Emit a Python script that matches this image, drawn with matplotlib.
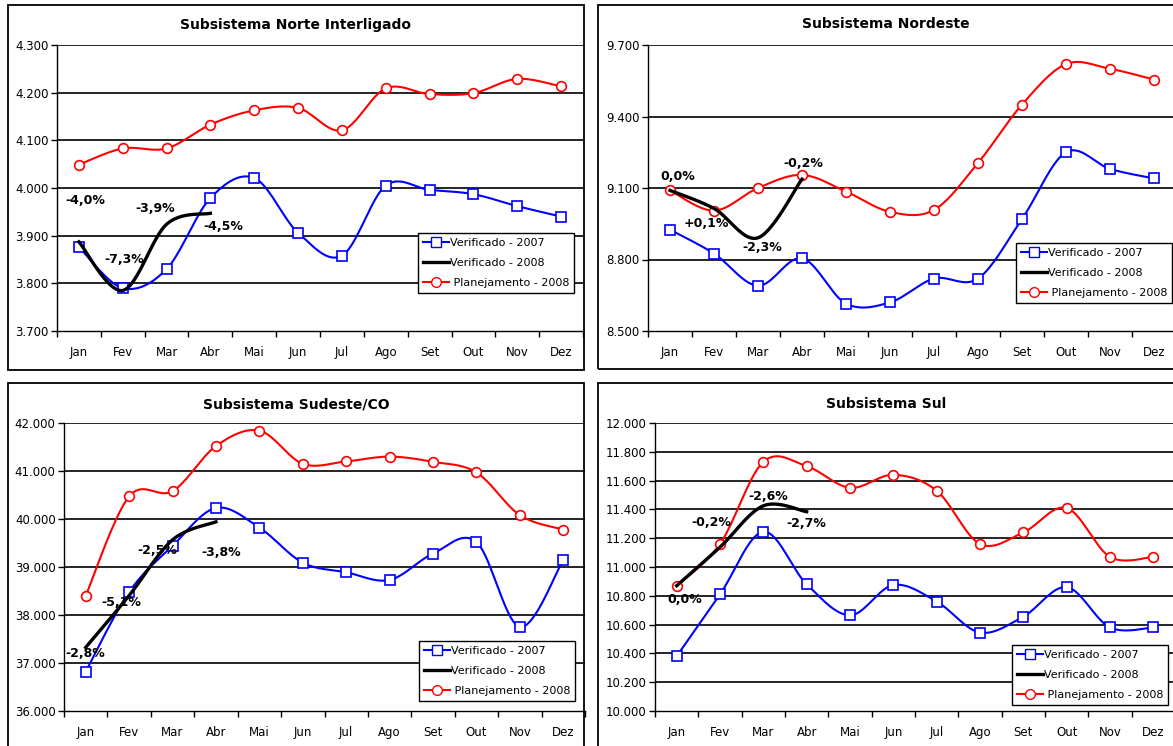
import numpy as np
import matplotlib
matplotlib.use("Agg")
import matplotlib.pyplot as plt
from matplotlib.lines import Line2D
from matplotlib.patches import Rectangle
from matplotlib.ticker import FuncFormatter, FixedLocator

months = ["Jan", "Fev", "Mar", "Abr", "Mai", "Jun", "Jul", "Ago", "Set", "Out", "Nov", "Dez"]

norte_2007 = [3876, 3790, 3830, 3979, 4021, 3906, 3858, 4005, 3996, 3987, 3962, 3940]
norte_2008 = [3887, 3785, 3924, 3947]
norte_plan = [4049, 4083, 4083, 4133, 4163, 4168, 4121, 4209, 4197, 4199, 4229, 4213]
norte_pct = ["-4,0%", "-7,3%", "-3,9%", "-4,5%"]

nordeste_2007 = [8925, 8825, 8690, 8805, 8615, 8620, 8720, 8720, 8970, 9250, 9180, 9140]
nordeste_2008 = [9090, 9014, 8891, 9137]
nordeste_plan = [9090, 9005, 9100, 9155, 9085, 9000, 9008, 9205, 9450, 9620, 9600, 9555]
nordeste_pct = ["0,0%", "+0,1%", "-2,3%", "-0,2%"]

sudeste_2007 = [36820, 38480, 39440, 40230, 39820, 39090, 38890, 38730, 39280, 39520, 37750, 39150]
sudeste_2008 = [37325, 38406, 39566, 39942]
sudeste_plan = [38400, 40470, 40580, 41520, 41840, 41150, 41200, 41300, 41190, 40970, 40080, 39780]
sudeste_pct = ["-2,8%", "-5,1%", "-2,5%", "-3,8%"]

sul_2007 = [10380, 10810, 11245, 10880, 10665, 10875, 10760, 10545, 10655, 10860, 10580, 10580]
sul_2008 = [10870, 11138, 11425, 11384]
sul_plan = [10870, 11160, 11730, 11700, 11550, 11640, 11530, 11160, 11240, 11410, 11070, 11070]
sul_pct = ["0,0%", "-0,2%", "-2,6%", "-2,7%"]

W, H = 1173, 746
fig = plt.figure(figsize=(W / 100, H / 100), dpi=100)
plt.rcParams['font.family'] = ['DejaVu Sans']


def px(l, t, r, b):
    return [l / W, (H - b) / H, (r - l) / W, (b - t) / H]


def smooth(y, n=20):
    """Excel-like smoothed line (Catmull-Rom Bezier) through the given points."""
    y = np.asarray(y, dtype=float)
    x = np.arange(len(y), dtype=float)
    P = np.column_stack([x, y])
    out = [P[0]]
    for i in range(len(P) - 1):
        p0 = P[i - 1] if i > 0 else P[i]
        p1 = P[i]
        p2 = P[i + 1]
        p3 = P[i + 2] if i + 2 < len(P) else P[i + 1]
        c1 = p1 + (p2 - p0) / 6.0
        c2 = p2 - (p3 - p1) / 6.0
        t = np.linspace(0, 1, n)[1:, None]
        seg = ((1 - t) ** 3) * p1 + 3 * ((1 - t) ** 2) * t * c1 + 3 * (1 - t) * t ** 2 * c2 + t ** 3 * p2
        out.extend(seg)
    out = np.array(out)
    return out[:, 0], out[:, 1]


fmt = FuncFormatter(lambda v, p: f"{v:,.0f}".replace(",", "."))

panels = [
    dict(title="Subsistema Norte Interligado", rect=px(57, 45, 583, 331), tcx=296, tcy=25,
         v07=norte_2007, v08=norte_2008, plan=norte_plan, pct=norte_pct,
         ylim=(3700, 4300), step=100,
         pctpos=[(0.14, 3973), (1.03, 3849), (1.74, 3956), (3.29, 3920)],
         leg=(418, 233)),
    dict(title="Subsistema Nordeste", rect=px(648, 45, 1176, 331), tcx=886, tcy=24,
         v07=nordeste_2007, v08=nordeste_2008, plan=nordeste_plan, pct=nordeste_pct,
         ylim=(8500, 9700), step=300,
         pctpos=[(0.18, 9150), (0.82, 8949), (2.09, 8852), (3.02, 9201)],
         leg=(1016, 243)),
    dict(title="Subsistema Sudeste/CO", rect=px(64, 423, 585, 711), tcx=296, tcy=404,
         v07=sudeste_2007, v08=sudeste_2008, plan=sudeste_plan, pct=sudeste_pct,
         ylim=(36000, 42000), step=1000,
         pctpos=[(0.0, 37208), (0.81, 38250), (1.64, 39354), (3.13, 39292)],
         leg=(419, 641)),
    dict(title="Subsistema Sul", rect=px(655, 423, 1175, 711), tcx=886, tcy=404,
         v07=sul_2007, v08=sul_2008, plan=sul_plan, pct=sul_pct,
         ylim=(10000, 12000), step=200,
         pctpos=[(0.18, 10771), (0.81, 11312), (2.12, 11493), (3.0, 11299)],
         leg=(1012, 645)),
]

# panel frames
for (l, t, r, b) in [(8, 5, 584, 370), (598, 5, 1190, 369), (8, 383, 584, 760), (598, 383, 1190, 760)]:
    fig.patches.append(Rectangle((l / W, (H - b) / H), (r - l) / W, (b - t) / H,
                                 transform=fig.transFigure, fill=False, ec="black", lw=1.3, zorder=0))

for p in panels:
    ax = fig.add_axes(p["rect"])
    ax.set_facecolor("none")
    x = np.arange(12)
    lo, hi = p["ylim"]
    ax.set_ylim(lo, hi)
    ax.set_xlim(-0.5, 11.5)
    for v in np.arange(lo + p["step"], hi + p["step"] / 2, p["step"]):
        ax.axhline(v, color="black", lw=1.2, zorder=1)
    ax.yaxis.set_major_locator(FixedLocator(np.arange(lo, hi + p["step"] / 2, p["step"])))
    ax.yaxis.set_major_formatter(fmt)
    ax.set_xticks(x)
    ax.set_xticklabels(months)
    ax.xaxis.set_minor_locator(FixedLocator(np.arange(-0.5, 12, 1)))
    ax.tick_params(axis="x", which="major", length=0, pad=11, labelsize=8.5)
    ax.tick_params(axis="x", which="minor", length=4, width=1, direction="out")
    ax.tick_params(axis="y", which="major", length=4, width=1, direction="out", labelsize=8.5, pad=2)
    for s in ["top", "right"]:
        ax.spines[s].set_visible(False)
    for s in ["left", "bottom"]:
        ax.spines[s].set_linewidth(1.0)
        ax.spines[s].set_color("black")

    sx, sy = smooth(p["v07"])
    ax.plot(sx, sy, color="#0000FF", lw=1.5, zorder=3)
    ax.plot(x, p["v07"], ls="none", marker="s", ms=7, mfc="white", mec="#0000FF", mew=1.2, zorder=4)

    sx, sy = smooth(p["plan"])
    ax.plot(sx, sy, color="#FF0000", lw=1.5, zorder=3)
    ax.plot(x, p["plan"], ls="none", marker="o", ms=7, mfc="white", mec="#FF0000", mew=1.2, zorder=4)

    sx, sy = smooth(p["v08"])
    ax.plot(sx, sy, color="black", lw=2.4, zorder=5)

    for (tx, ty), s in zip(p["pctpos"], p["pct"]):
        ax.text(tx, ty, s, ha="center", va="center", fontsize=9, fontweight="bold", zorder=6)

    fig.text(p["tcx"] / W, 1 - p["tcy"] / H, p["title"], ha="center", va="center",
             fontsize=10, fontweight="bold")

    handles = [
        Line2D([], [], color="#0000FF", lw=1.5, marker="s", ms=7, mfc="white", mec="#0000FF"),
        Line2D([], [], color="black", lw=2.4),
        Line2D([], [], color="#FF0000", lw=1.5, marker="o", ms=7, mfc="white", mec="#FF0000"),
    ]
    labels = ["Verificado - 2007", "Verificado - 2008", " Planejamento - 2008"]
    lx, ly = p["leg"]
    leg = ax.legend(handles, labels, loc="upper left", bbox_to_anchor=(lx / W, 1 - ly / H),
                    bbox_transform=fig.transFigure, fontsize=8, frameon=True, fancybox=False,
                    framealpha=1, edgecolor="black", borderpad=0.45, labelspacing=0.9,
                    handlelength=2.3, handletextpad=0.1, borderaxespad=0)
    leg.get_frame().set_linewidth(1.0)
    leg.set_zorder(10)

fig.savefig("out.png", dpi=100)
